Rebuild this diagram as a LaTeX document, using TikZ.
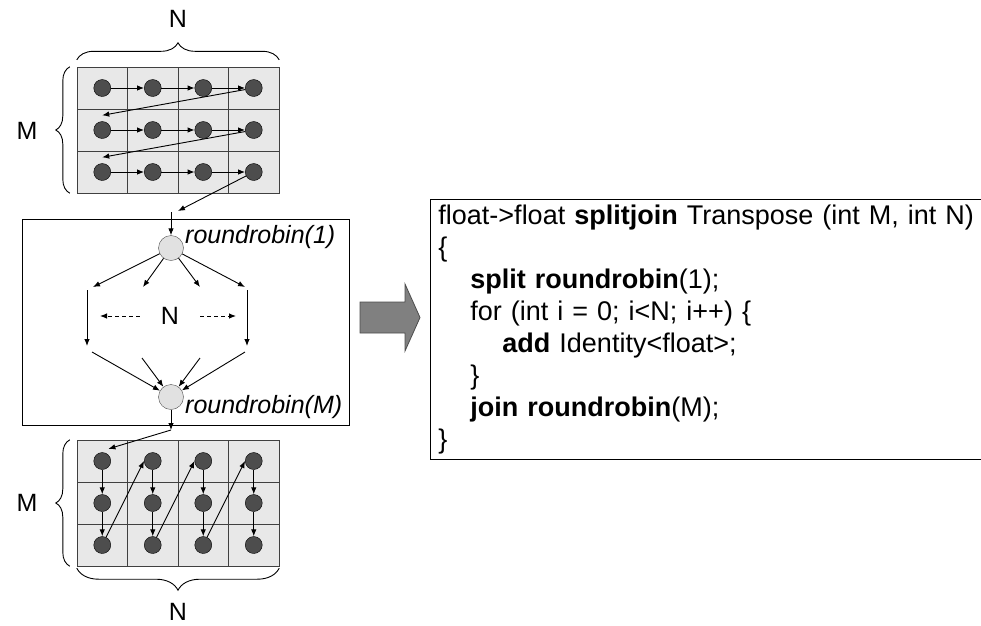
\documentclass[tikz,border=0pt]{standalone}
\usepackage{fontspec}
\setmainfont{Liberation Sans}
\usepackage{tikz}
\usetikzlibrary{arrows.meta, positioning, decorations.pathreplacing}
\definecolor{cellgray}{RGB}{232,232,232}
\definecolor{dotgray}{RGB}{77,77,77}
\definecolor{rrgray}{RGB}{225,225,225}
\definecolor{bigarrowgray}{RGB}{128,128,128}
\tikzset{%
  cell/.style={rectangle, draw=black!75, fill=cellgray, minimum width=50.5pt, minimum height=42pt, inner sep=0pt},
  elem/.style={circle, draw=black, fill=dotgray, minimum size=17pt, inner sep=0pt},
  rrnode/.style={circle, draw=black!70, fill=rrgray, minimum size=25pt, inner sep=0pt},
  rrtext/.style={font=\fontsize{25}{30}\selectfont\itshape, inner sep=1pt},
  dimtext/.style={font=\fontsize{25}{30}\selectfont, inner sep=0pt},
  line/.style={draw, line width=0.9pt, -{Latex[length=7pt, width=5.5pt]}},
  dline/.style={line, dash pattern=on 4pt off 3pt},
  bigbrace/.style={draw, line width=0.9pt, decorate, decoration={brace, amplitude=#1}}}

\begin{document}
\begin{tikzpicture}[x=1pt, y=-1pt]
    \useasboundingbox (0,0) rectangle (981,625);
    % M x N input, read row by row
    \foreach \r in {1, 2, 3} {
      \foreach \c in {1, 2, 3, 4} {
        \node [cell] (tc\r\c) at ({51.75 + 50.5 * \c}, {46 + 42 * \r}) {};
        \node [elem] (t\r\c) at (tc\r\c) {};
      }
    }
    \foreach \r in {1, 2, 3} {
      \foreach \c/\n in {1/2, 2/3, 3/4} {
        \draw [line] (t\r\c) -- (t\r\n);
      }
    }
    \draw [line] (t14) -- ([yshift=6pt]t21.north);
    \draw [line] (t24) -- ([yshift=6pt]t31.north);
    \draw [bigbrace=17pt] ([yshift=7pt]tc11.north west) -- ([yshift=7pt]tc14.north east);
    \draw [bigbrace=14pt] ([xshift=-7pt]tc31.south west) -- ([xshift=-7pt]tc11.north west);
    \node [dimtext] (ntop) at (178, 19) {N};
    \node [dimtext] (mtop) at (27, 131) {M};

    % the splitjoin
    \node [draw, line width=0.9pt, minimum width=327pt, minimum height=206pt] (sjbox) at (185.5, 322) {};
    \coordinate (topout) at (178, 211);
    \coordinate (boxin) at (171, 212);
    \draw [line] (t34) -- (topout);
    \node [rrnode] (split) at (171, 248) {};
    \node [rrtext, right=4pt of split.north east, yshift=2pt] (splitlabel) {roundrobin(1)};
    \draw [line] (boxin) -- (split);
    \foreach \i/\x in {1/93, 2/143, 3/200, 4/245} {
      \coordinate (f\i) at (\x, 287);
      \draw [line] (split) -- (f\i);
    }
    \coordinate (l1) at (87, 290);
    \coordinate (l2) at (87, 346);
    \coordinate (r1) at (247, 290);
    \coordinate (r2) at (247, 346);
    \draw [line] (l1) -- (l2);
    \draw [line] (r1) -- (r2);
    \node [dimtext, inner xsep=21pt] (nmid) at (170, 316) {N};
    \coordinate (dl) at (100, 316);
    \coordinate (dr) at (236, 316);
    \draw [dline] (nmid) -- (dl);
    \draw [dline] (nmid) -- (dr);
    \node [rrnode] (join) at (171, 397) {};
    \node [rrtext, right=4pt of join.south east, yshift=-1pt] (joinlabel) {roundrobin(M)};
    \foreach \i/\x/\y in {1/92/352, 2/142/358, 3/200/358, 4/245/352} {
      \coordinate (c\i) at (\x, \y);
      \draw [line] (c\i) -- (join);
    }
    \coordinate (boxout) at (171, 430);
    \draw [line] (join) -- (boxout);

    % transposed output, read column by column
    \foreach \r in {1, 2, 3} {
      \foreach \c in {1, 2, 3, 4} {
        \node [cell] (bc\r\c) at ({51.75 + 50.5 * \c}, {419 + 42 * \r}) {};
        \node [elem] (b\r\c) at (bc\r\c) {};
      }
    }
    \draw [line] (boxout) -- ([yshift=6pt]b11.north east);
    \foreach \c in {1, 2, 3, 4} {
      \draw [line] (b1\c) -- (b2\c);
      \draw [line] (b2\c) -- (b3\c);
    }
    \foreach \c/\n in {1/2, 2/3, 3/4} {
      \draw [line] (b3\c) -- (b1\n.west);
    }
    \draw [bigbrace=14pt] ([xshift=-7pt]bc31.south west) -- ([xshift=-7pt]bc11.north west);
    \draw [bigbrace=22pt] ([yshift=-2pt]bc34.south east) -- ([yshift=-2pt]bc31.south west);
    \node [dimtext] (mbot) at (27, 503) {M};
    \node [dimtext] (nbot) at (178, 612) {N};

    % big arrow and the code
    \draw [fill=bigarrowgray, draw=black!70, line width=0.8pt] (360, 302) -- (405, 302) -- (405, 284)
      -- (420, 317.5) -- (405, 351) -- (405, 333) -- (360, 333) -- cycle;
    \node [draw, line width=0.9pt, anchor=north west, text width=560pt, inner xsep=8pt,
      minimum height=260pt, align=left, font=\fontsize{27}{32}\selectfont] (code) at (430, 199) {%
      float->float \textbf{splitjoin} Transpose (int M, int N)\\
      \{\\
      \hspace*{32pt}\textbf{split roundrobin}(1);\\
      \hspace*{32pt}for (int i = 0; i<N; i++) \{\\
      \hspace*{64pt}\textbf{add} Identity<float>;\\
      \hspace*{32pt}\}\\
      \hspace*{32pt}\textbf{join roundrobin}(M);\\
      \}};
  \end{tikzpicture}
\end{document}
